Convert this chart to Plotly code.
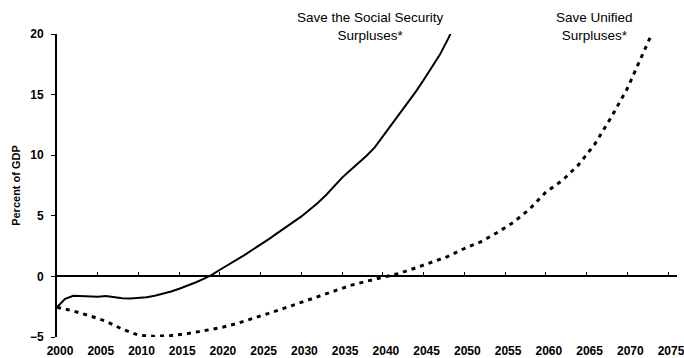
import plotly.graph_objects as go

# Surplus-saving scenarios, percent of GDP
ss_years = [2000, 2001, 2002, 2003, 2004, 2005, 2006, 2007, 2008, 2009,
            2010, 2011, 2012, 2013, 2014, 2015, 2016, 2017, 2018, 2019,
            2020, 2021, 2022, 2023, 2024, 2025, 2026, 2027, 2028, 2029,
            2030, 2031, 2032, 2033, 2034, 2035, 2036, 2037, 2038, 2039,
            2040, 2041, 2042, 2043, 2044, 2045, 2046, 2047, 2048, 2048.5]
ss_values = [-2.55, -1.85, -1.6, -1.62, -1.6, -1.68, -1.62, -1.72, -1.8, -1.82,
             -1.78, -1.72, -1.6, -1.45, -1.25, -1.02, -0.78, -0.5, -0.2, 0.12,
             0.55, 0.95, 1.32, 1.75, 2.2, 2.62, 3.08, 3.55, 4.0, 4.5,
             4.95, 5.5, 6.05, 6.7, 7.4, 8.15, 8.75, 9.35, 9.95, 10.65,
             11.55, 12.45, 13.35, 14.25, 15.2, 16.2, 17.2, 18.3, 19.6, 20.3]

uni_years = [2000, 2002, 2004, 2006, 2008, 2010, 2012, 2014, 2016, 2018,
             2020, 2022, 2024, 2026, 2028, 2030, 2032, 2034, 2036, 2038,
             2040, 2042, 2044, 2046, 2048, 2050, 2052, 2054, 2056, 2058,
             2060, 2062, 2064, 2066, 2068, 2070, 2072, 2073.2]
uni_values = [-2.55, -2.85, -3.25, -3.7, -4.35, -4.85, -4.95, -4.88, -4.72, -4.5,
              -4.25, -3.9, -3.5, -3.05, -2.6, -2.15, -1.7, -1.2, -0.75, -0.4,
              -0.1, 0.25, 0.7, 1.15, 1.65, 2.3, 2.85, 3.6, 4.45, 5.55,
              6.95, 7.9, 9.2, 10.9, 13.1, 15.5, 18.6, 20.3]

x_ticks = list(range(2000, 2080, 5))
y_ticks = [-5, 0, 5, 10, 15, 20]

ss_label = "Save the Social Security<br>Surpluses*"
uni_label = "Save Unified<br>Surpluses*"

FONT = "Liberation Sans, Arial, Helvetica, sans-serif"
X_RANGE = [2000, 2076.1]
Y_RANGE = [-5, 20]

fig = go.Figure()

fig.add_trace(go.Scatter(
    x=ss_years, y=ss_values, mode="lines",
    line=dict(color="black", width=2),
    hoverinfo="skip", showlegend=False,
))
fig.add_trace(go.Scatter(
    x=uni_years, y=uni_values, mode="lines",
    line=dict(color="black", width=3, dash="4px,5px"),
    hoverinfo="skip", showlegend=False,
))
# empty trace so the overlay axes (zero line, end marks) get drawn
fig.add_trace(go.Scatter(
    x=[], y=[], xaxis="x2", yaxis="y2", mode="lines",
    hoverinfo="skip", showlegend=False,
))

fig.add_annotation(x=2038.5, y=1, yshift=8, text=ss_label, showarrow=False,
                   xref="x", yref="paper", yanchor="middle",
                   font=dict(family=FONT, size=13.5, color="black"))
fig.add_annotation(x=2066.0, y=1, yshift=8, text=uni_label, showarrow=False,
                   xref="x", yref="paper", yanchor="middle",
                   font=dict(family=FONT, size=13.5, color="black"))

fig.update_layout(
    width=684, height=358,
    margin=dict(l=57, r=7, t=34, b=21, autoexpand=False),
    paper_bgcolor="white", plot_bgcolor="white",
    font=dict(family=FONT, color="black"),
    xaxis=dict(
        range=X_RANGE, tickmode="array", tickvals=x_ticks,
        ticktext=[str(t) for t in x_ticks],
        showline=False, showgrid=False, zeroline=False, automargin=False,
        ticks="outside", ticklen=3, tickcolor="rgba(0,0,0,0)",
        ticklabelshift=3, ticklabeloverflow="allow",
        tickfont=dict(family=FONT, size=12, weight="bold"),
    ),
    # zero line carrying the year tick marks
    xaxis2=dict(
        range=X_RANGE, overlaying="x", anchor="free", position=0.2,
        side="top", tickmode="array", tickvals=x_ticks[1:],
        showline=True, linecolor="black", linewidth=1.5,
        ticks="outside", ticklen=4, tickwidth=1.2, tickcolor="black",
        showticklabels=False, showgrid=False, zeroline=False, automargin=False,
    ),
    yaxis=dict(
        range=Y_RANGE, tickmode="array", tickvals=y_ticks,
        showline=True, linecolor="black", linewidth=2,
        ticks="outside", ticklen=4, tickwidth=1.2, tickcolor="black",
        ticklabelstandoff=5, automargin=False,
        showgrid=False, zeroline=False,
        tickfont=dict(family=FONT, size=12, weight="bold"),
        title=dict(text="Percent of GDP", standoff=7,
                   font=dict(family=FONT, size=11, weight="bold")),
    ),
    # short inward marks closing the ends of the value axis
    yaxis2=dict(
        range=Y_RANGE, overlaying="y", anchor="x", side="left",
        tickmode="array", tickvals=[Y_RANGE[0], Y_RANGE[1]],
        ticks="inside", ticklen=4, tickwidth=1.2, tickcolor="black",
        showticklabels=False, showgrid=False, zeroline=False, showline=False,
        automargin=False,
    ),
)

fig.write_html("out.html")
